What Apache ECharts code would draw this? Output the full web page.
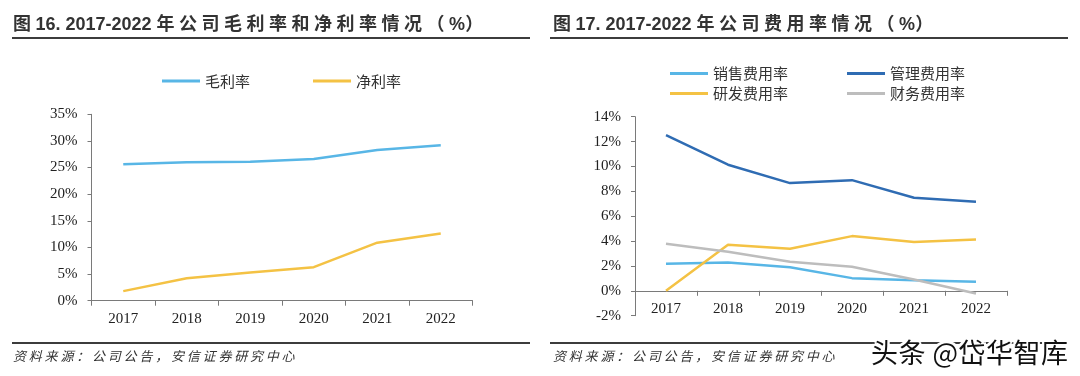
<!DOCTYPE html>
<html>
<head>
<meta charset="utf-8">
<script src="https://cdn.jsdelivr.net/npm/echarts@6/dist/echarts.min.js"></script>
<style>
html,body{margin:0;padding:0;background:#fff;}
#wrap{position:relative;width:1080px;height:376px;overflow:hidden;background:#fff;}
#chart{position:absolute;left:0;top:0;width:1080px;height:376px;}
.title{position:absolute;top:9px;font-family:"Liberation Sans","Noto Sans CJK SC",sans-serif;font-weight:bold;font-size:18px;color:#333;white-space:nowrap;letter-spacing:0px;}
.title .cj{font-family:"Noto Sans CJK SC",sans-serif;font-weight:bold;font-size:18px;letter-spacing:4.5px;}
.rule{position:absolute;height:2px;background:#3c3c3c;}
.frule{position:absolute;height:1.5px;background:#3c3c3c;}
.src{position:absolute;top:346px;font-family:"Noto Sans CJK SC",sans-serif;font-style:italic;font-size:13px;letter-spacing:2.8px;color:#333;white-space:nowrap;}
.wm{position:absolute;left:871px;top:332px;font-family:"Noto Sans CJK SC",sans-serif;font-size:27px;letter-spacing:0.5px;color:#111;white-space:nowrap;
text-shadow:-2px 0 #fff,2px 0 #fff,0 -2px #fff,0 2px #fff,-2px -2px #fff,2px 2px #fff,-2px 2px #fff,2px -2px #fff;}
</style>
</head>
<body>
<div id="wrap">
<div id="chart"></div>
<div class="title" style="left:13px;"><span class="cj">图</span>16. 2017-2022 <span class="cj">年公司毛利率和净利率情况（</span>%<span class="cj">）</span></div>
<div class="title" style="left:553px;"><span class="cj">图</span>17. 2017-2022 <span class="cj">年公司费用率情况（</span>%<span class="cj">）</span></div>
<div class="rule" style="left:12px;width:518px;top:37px;"></div>
<div class="rule" style="left:550px;width:518px;top:37px;"></div>
<div class="frule" style="left:12px;width:518px;top:342px;"></div>
<div class="frule" style="left:550px;width:500px;top:342px;"></div>
<div class="src" style="left:13px;">资料来源：公司公告，安信证券研究中心</div>
<div class="src" style="left:553px;">资料来源：公司公告，安信证券研究中心</div>
<div class="wm">头条 @岱华智库</div>
</div>
<script>
const years = ['2017', '2018', '2019', '2020', '2021', '2022'];
const grossMargin = [25.6, 26.0, 26.1, 26.6, 28.3, 29.2];
const netMargin = [1.8, 4.2, 5.3, 6.3, 10.9, 12.6];
const leftTicks = { min: 0, max: 35, interval: 5 };

const salesRate = [2.17, 2.28, 1.90, 1.02, 0.86, 0.72];
const adminRate = [12.52, 10.14, 8.66, 8.90, 7.48, 7.16];
const rdRate = [0.0, 3.70, 3.38, 4.40, 3.92, 4.13];
const financeRate = [3.78, 3.14, 2.33, 1.93, 0.91, -0.21];
const rightTicks = { min: -2, max: 14, interval: 2 };

const C_LIGHT = '#58b6e6', C_YEL = '#f4c244', C_DARK = '#2f6cb3', C_GRAY = '#bdbdbd';
const labelFont = { fontFamily: '"Liberation Serif", serif', fontSize: 15, color: '#222' };
const axisLineStyle = { color: '#7a7a7a', width: 1 };
const legendText = { fontFamily: '"Noto Sans CJK SC", sans-serif', fontSize: 15, color: '#333' };

function xAxis(gi, margin) {
  return {
    type: 'category', gridIndex: gi, data: years, boundaryGap: true,
    axisLine: { show: true, onZero: true, lineStyle: axisLineStyle },
    axisTick: { show: true, length: 5, inside: false, alignWithLabel: false, lineStyle: axisLineStyle },
    axisLabel: Object.assign({ margin: margin }, labelFont),
    splitLine: { show: false }
  };
}
function yAxis(gi, t) {
  return {
    type: 'value', gridIndex: gi, min: t.min, max: t.max, interval: t.interval,
    axisLine: { show: true, lineStyle: axisLineStyle },
    axisTick: { show: true, length: 4, lineStyle: axisLineStyle },
    axisLabel: Object.assign({ margin: 14, formatter: '{value}%' }, labelFont),
    splitLine: { show: false }
  };
}
function line(name, data, color, xi) {
  return {
    name: name, type: 'line', xAxisIndex: xi, yAxisIndex: xi, data: data,
    showSymbol: false, symbol: 'none', smooth: false,
    lineStyle: { color: color, width: 2.5 }, itemStyle: { color: color },
    emphasis: { disabled: true }, animation: false
  };
}
const legendBase = { icon: 'rect', itemWidth: 38, itemHeight: 3, textStyle: legendText, selectedMode: false, padding: 0 };

const chart = echarts.init(document.getElementById('chart'), null, { renderer: 'canvas' });
chart.setOption({
  backgroundColor: 'transparent',
  animation: false,
  grid: [
    { left: 91.5, right: 607.5, top: 114.3, bottom: 75.3, containLabel: false },
    { left: 635, right: 73, top: 116.7, bottom: 60.3, containLabel: false }
  ],
  legend: [
    Object.assign({ data: ['毛利率', '净利率'], left: 162, top: 73.5, itemGap: 63 }, legendBase),
    Object.assign({ data: ['销售费用率', '管理费用率'], left: 670, top: 66, itemGap: 59 }, legendBase),
    Object.assign({ data: ['研发费用率', '财务费用率'], left: 670, top: 86, itemGap: 59 }, legendBase)
  ],
  xAxis: [xAxis(0, 11), xAxis(1, -14)],
  yAxis: [yAxis(0, leftTicks), yAxis(1, rightTicks)],
  series: [
    line('毛利率', grossMargin, C_LIGHT, 0),
    line('净利率', netMargin, C_YEL, 0),
    line('销售费用率', salesRate, C_LIGHT, 1),
    line('管理费用率', adminRate, C_DARK, 1),
    line('研发费用率', rdRate, C_YEL, 1),
    line('财务费用率', financeRate, C_GRAY, 1)
  ]
});
</script>
</body>
</html>
